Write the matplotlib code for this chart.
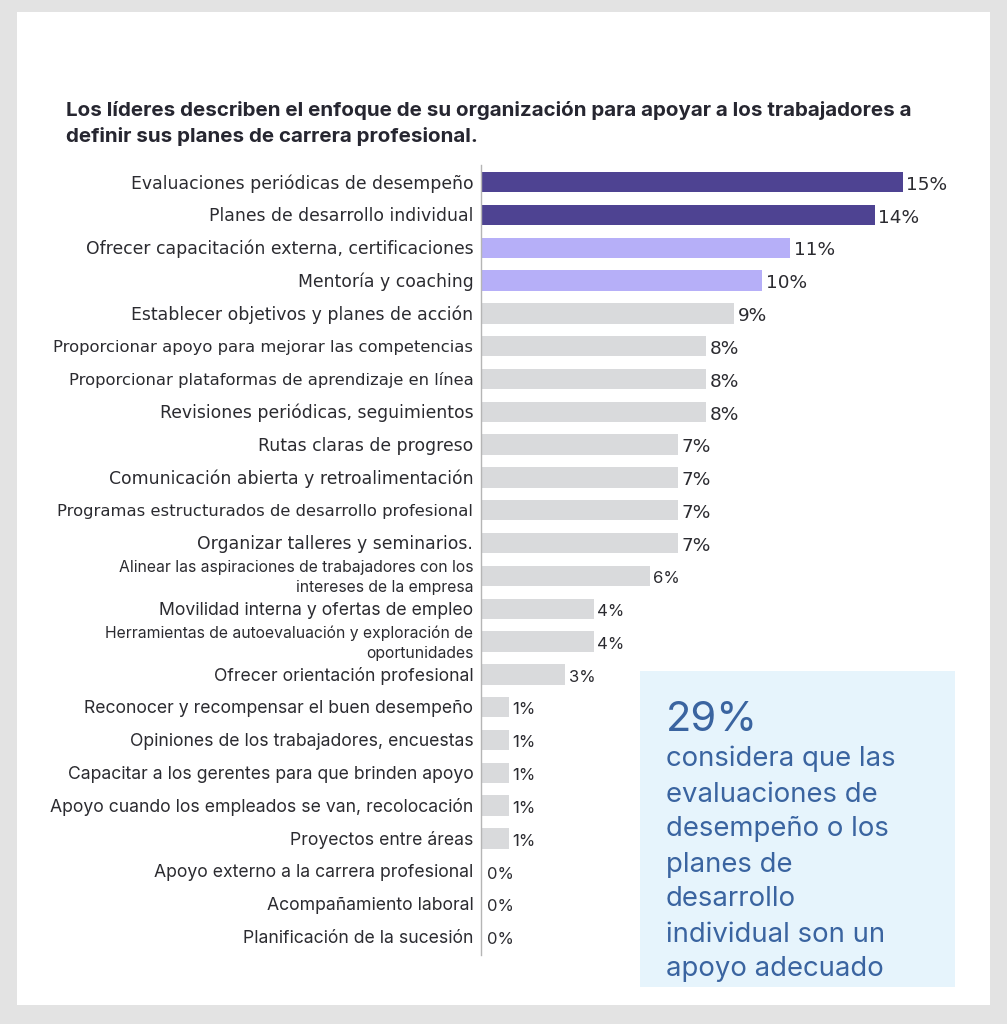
import matplotlib
matplotlib.use("Agg")
import matplotlib.pyplot as plt
from matplotlib.patches import Rectangle

plt.rcParams['font.family'] = ['Inter', 'DejaVu Sans']

categories = [
    "Evaluaciones periódicas de desempeño",
    "Planes de desarrollo individual",
    "Ofrecer capacitación externa, certificaciones",
    "Mentoría y coaching",
    "Establecer objetivos y planes de acción",
    "Proporcionar apoyo para mejorar las competencias",
    "Proporcionar plataformas de aprendizaje en línea",
    "Revisiones periódicas, seguimientos",
    "Rutas claras de progreso",
    "Comunicación abierta y retroalimentación",
    "Programas estructurados de desarrollo profesional",
    "Organizar talleres y seminarios.",
    "Alinear las aspiraciones de trabajadores con los\nintereses de la empresa",
    "Movilidad interna y ofertas de empleo",
    "Herramientas de autoevaluación y exploración de\noportunidades",
    "Ofrecer orientación profesional",
    "Reconocer y recompensar el buen desempeño",
    "Opiniones de los trabajadores, encuestas",
    "Capacitar a los gerentes para que brinden apoyo",
    "Apoyo cuando los empleados se van, recolocación",
    "Proyectos entre áreas",
    "Apoyo externo a la carrera profesional",
    "Acompañamiento laboral",
    "Planificación de la sucesión",
]
values = [15, 14, 11, 10, 9, 8, 8, 8, 7, 7, 7, 7, 6, 4, 4, 3, 1, 1, 1, 1, 1, 0, 0, 0]
groups = ["dark", "dark", "light", "light"] + ["grey"] * 20
group_colors = {"dark": "#4e4392", "light": "#b6aff8", "grey": "#d9dadc"}

callout_value = "29%"
callout_text = ("considera que las\nevaluaciones de\ndesempeño o los\nplanes de\n"
                "desarrollo\nindividual son un\napoyo adecuado")
title = ("Los líderes describen el enfoque de su organización para apoyar a los trabajadores a\n"
         "definir sus planes de carrera profesional.")

W, H = 1007, 1024
fig = plt.figure(figsize=(W / 100, H / 100), dpi=100)
fig.patch.set_facecolor("#e3e3e3")

# white panel as a background axes
bg = fig.add_axes([17 / W, 1 - 1005 / H, (990 - 17) / W, (1005 - 12) / H])
bg.set_facecolor("white")
bg.set_xticks([]); bg.set_yticks([])
for s in bg.spines.values():
    s.set_visible(False)
bg.set_zorder(0)

bx0, by0, bx1, by1 = 640, 671, 955, 987
fig.patches.append(Rectangle((bx0 / W, 1 - by1 / H), (bx1 - bx0) / W, (by1 - by0) / H,
                             transform=fig.transFigure, facecolor="#e6f4fc",
                             edgecolor="none", zorder=1))

ax_left, ax_right = 481 / W, 955 / W
ax_top, ax_bot = 1 - 165 / H, 1 - 955 / H
ax = fig.add_axes([ax_left, ax_bot, ax_right - ax_left, ax_top - ax_bot])
ax.set_facecolor("none")
ax.set_zorder(2)

ypos = list(range(len(categories)))
ax.barh(ypos, values, height=0.62, color=[group_colors[g] for g in groups], zorder=2)
ax.set_xlim(0, 16.85)
ax.set_ylim(23.55, -0.52)
ax.set_yticks(ypos)
ax.set_yticklabels([])
ax.tick_params(axis="y", length=0)
ax.set_xticks([])
for s in ["top", "right", "bottom"]:
    ax.spines[s].set_visible(False)
ax.spines["left"].set_color("#b5b5b5")
ax.spines["left"].set_linewidth(1)

N_VERDANA = 12  # upper rows are set in a wide Verdana-like face in the source
text_color = "#2b2b30"
for i, (y, cat, v) in enumerate(zip(ypos, categories, values)):
    if i < N_VERDANA:
        size = 11.8 if len(cat) > 46 else 12.4
        lab_kw = dict(family=["DejaVu Sans"], fontsize=size)
        val_kw = dict(family=["DejaVu Sans"], fontsize=13.3)
        vx = 2.5
    elif "\n" in cat:
        lab_kw = dict(fontsize=11.3, linespacing=1.4)
        val_kw = dict(fontsize=12)
        vx = 2.5
    else:
        lab_kw = dict(fontsize=12.7)
        val_kw = dict(fontsize=12)
        vx = 2.5 if v > 0 else 4.5
    ax.annotate(cat, xy=(0, y), xytext=(-5.5, -1), textcoords="offset points",
                ha="right", va="center", ma="right", color=text_color,
                annotation_clip=False, **lab_kw)
    ax.annotate(f"{v}%", xy=(v, y), xytext=(vx, -2), textcoords="offset points",
                ha="left", va="center", color=text_color, annotation_clip=False, **val_kw)

fig.text(66 / W, 1 - 101 / H, title, fontsize=14.8, fontweight="bold", color="#262630",
         ha="left", va="top", linespacing=1.46, zorder=3)

blue = "#3a64a0"
fig.text(666 / W, 1 - 731 / H, callout_value, fontsize=30, color=blue,
         ha="left", va="baseline", zorder=3)
fig.text(666 / W, 1 - 746 / H, callout_text, fontsize=19.8, color=blue,
         ha="left", va="top", linespacing=1.45, zorder=3)

fig.savefig("out.png", dpi=100)
